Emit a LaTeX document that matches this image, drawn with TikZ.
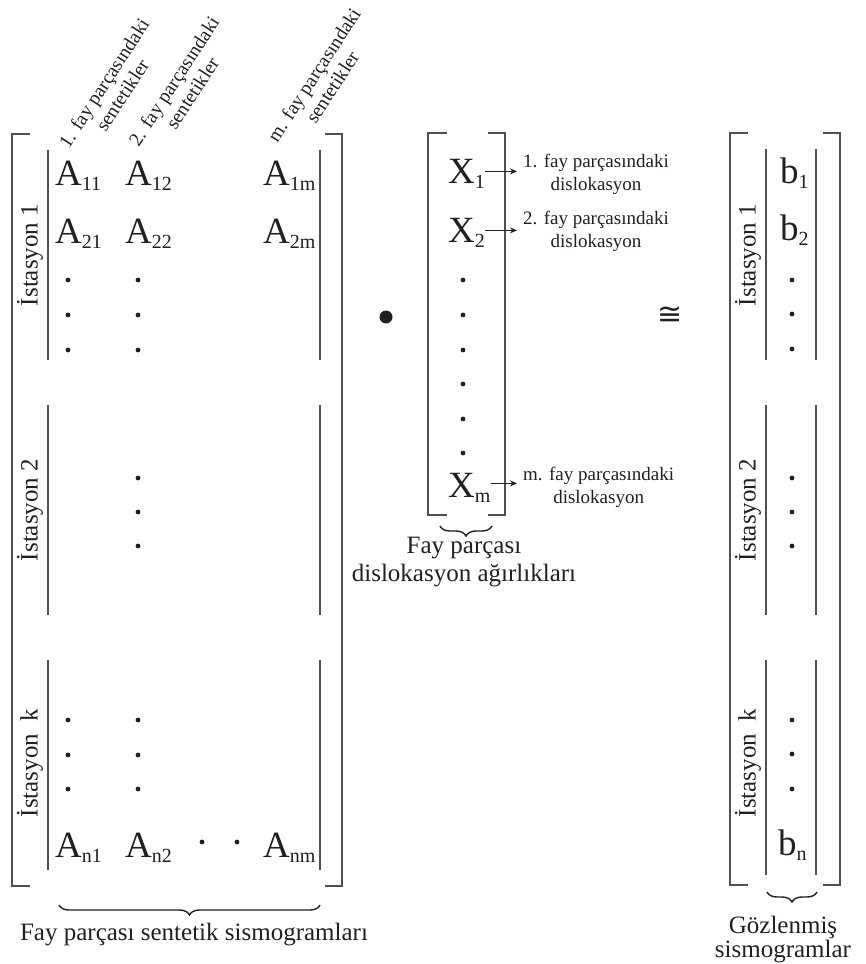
\documentclass[tikz,border=0pt]{standalone}
\usepackage{fontspec}
\setmainfont{Liberation Serif}
\newfontfamily\symfnt{DejaVu Sans}
\usetikzlibrary{decorations.pathreplacing,arrows.meta}
\definecolor{txt}{HTML}{231F20}
\definecolor{lnc}{HTML}{505050}
\newcommand{\Ent}[2]{{\fontsize{37}{37}\selectfont #1}\raisebox{-5pt}{\fontsize{20}{20}\selectfont #2}}
\begin{document}
\begin{tikzpicture}[x=1pt,y=-1pt,
  ln/.style={line width=1.3pt, draw=lnc},
  ent/.style={anchor=base west, inner sep=0pt, text=txt},
  stl/.style={rotate=90, inner sep=0pt, text=txt, font=\fontsize{25}{25}\selectfont},
  toplbl/.style={rotate=57, align=center, inner sep=0pt, text=txt, font=\fontsize{19.5}{22}\selectfont},
  desc/.style={anchor=west, align=center, inner sep=0pt, text=txt, font=\fontsize{19}{23}\selectfont},
  captxt/.style={align=center, inner sep=0pt, text=txt, font=\fontsize{25}{28}\selectfont},
  brc/.style={decorate, decoration={brace, amplitude=10pt}, line width=1.4pt, draw=txt},
  arr/.style={-{Stealth[length=7pt,width=6pt]}, line width=1pt, draw=txt}
]
\useasboundingbox (0,0) rectangle (865,964);

% ---------- left matrix ----------
\draw[ln] (30,134) -- (12,134) -- (12,886) -- (30,886);
\draw[ln] (325,134) -- (342,134) -- (342,886) -- (325,886);
\foreach \a/\b in {150/360,405/615,660/870}{
  \draw[ln] (48,\a) -- (48,\b);
  \draw[ln] (320,\a) -- (320,\b);
}
\node[stl] (s1) at (30,255) {İstasyon 1};
\node[stl] (s2) at (30,510) {İstasyon 2};
\node[stl] (sk) at (30,763) {İstasyon~ k};

\node[toplbl] (t1) at (113,89) {1. fay parçasındaki\\sentetikler};
\node[toplbl] (t2) at (183,87) {2. fay parçasındaki\\sentetikler};
\node[toplbl] (tm) at (323,81) {m. fay parçasındaki\\sentetikler};

\node[ent] (A11) at (55,185) {\Ent{A}{11}};
\node[ent] (A12) at (125,185) {\Ent{A}{12}};
\node[ent] (A1m) at (263,185) {\Ent{A}{1m}};
\node[ent] (A21) at (55,243) {\Ent{A}{21}};
\node[ent] (A22) at (125,243) {\Ent{A}{22}};
\node[ent] (A2m) at (263,243) {\Ent{A}{2m}};
\node[ent] (An1) at (55,857) {\Ent{A}{n1}};
\node[ent] (An2) at (125,857) {\Ent{A}{n2}};
\node[ent] (Anm) at (263,857) {\Ent{A}{nm}};

\foreach \y in {280,315,350,720,755,789}{
  \fill[txt] (68,\y) circle (2.4pt);
  \fill[txt] (138,\y) circle (2.4pt);
}
\foreach \y in {478,512,546}{ \fill[txt] (138,\y) circle (2.4pt); }
\fill[txt] (202,842) circle (2.4pt);
\fill[txt] (237,842) circle (2.4pt);

\draw[brc] (320,905) -- (59,905);
\node[captxt, anchor=base] (capA) at (194,940) {Fay parçası sentetik sismogramları};

% ---------- product dot ----------
\fill[txt] (386,317) circle (6.5pt);

% ---------- middle matrix ----------
\draw[ln] (447,133) -- (428,133) -- (428,515) -- (447,515);
\draw[ln] (488,133) -- (505,133) -- (505,515) -- (488,515);
\node[ent] (X1) at (448,183) {\Ent{X}{1}};
\node[ent] (X2) at (448,242) {\Ent{X}{2}};
\node[ent] (Xm) at (448,497) {\Ent{X}{m}};
\foreach \y in {280,315,350,384,419,453}{ \fill[txt] (463,\y) circle (2.4pt); }

\node[desc] (L1) at (523,174) {1. fay parçasındaki\\dislokasyon};
\node[desc] (L2) at (523,231) {2. fay parçasındaki\\dislokasyon};
\node[desc] (Lm) at (523,487) {m. fay parçasındaki\\dislokasyon};
\draw[arr, shorten >=6pt] ([yshift=2pt]X1.east) -- ([yshift=2pt]X1.east -| L1.west);
\draw[arr, shorten >=6pt] ([yshift=2pt]X2.east) -- ([yshift=2pt]X2.east -| L2.west);
\draw[arr, shorten >=6pt] ([yshift=4pt]Xm.east) -- ([yshift=4pt]Xm.east -| Lm.west);

\draw[brc] (492,526) -- (440,526);
\node[captxt] (capX) at (464,562) {Fay parçası\\dislokasyon ağırlıkları};

% ---------- approx equal ----------
\node[inner sep=0pt, text=txt] (cong) at (670,316) {\fontsize{30}{30}\symfnt ≅};

% ---------- right matrix ----------
\draw[ln] (748,133) -- (730,133) -- (730,885) -- (748,885);
\draw[ln] (823,133) -- (840,133) -- (840,885) -- (823,885);
\foreach \a/\b in {149/360,405/615,660/875}{
  \draw[ln] (766,\a) -- (766,\b);
  \draw[ln] (816,\a) -- (816,\b);
}
\node[stl] (r1) at (748,255) {İstasyon 1};
\node[stl] (r2) at (748,510) {İstasyon 2};
\node[stl] (rk) at (748,763) {İstasyon~ k};
\node[ent] (b1) at (780,183) {\Ent{b}{1}};
\node[ent] (b2) at (780,240) {\Ent{b}{2}};
\node[ent] (bn) at (778,855) {\Ent{b}{n}};
\foreach \y in {280,314,349,478,512,546,720,754,789}{ \fill[txt] (792,\y) circle (2.4pt); }

\draw[brc] (817,892) -- (767,892);
\node[captxt, font=\fontsize{25}{24}\selectfont, anchor=north] (capB) at (783,916) {Gözlenmiş\\sismogramlar};
\end{tikzpicture}
\end{document}
